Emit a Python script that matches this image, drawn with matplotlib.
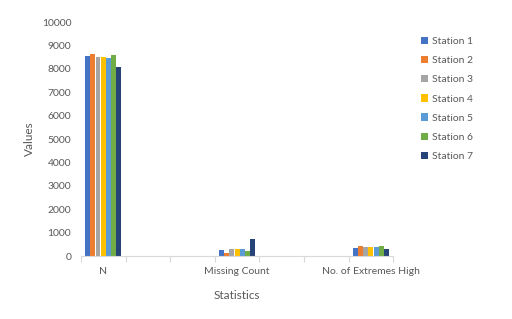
import matplotlib
matplotlib.use("Agg")
import matplotlib.pyplot as plt
import numpy as np

# categories (only every third label shown, as in the original)
categories = ["N", "", "", "Missing Count", "", "", "No. of Extremes High"]
stations = ["Station 1", "Station 2", "Station 3", "Station 4",
            "Station 5", "Station 6", "Station 7"]
colors = ["#4472C4", "#ED7D31", "#A5A5A5", "#FFC000", "#5B9BD5", "#70AD47", "#264478"]

# values per station, one per category
station_1 = [8560, 0, 0, 250, 0, 0, 330]
station_2 = [8650, 0, 0, 130, 0, 0, 420]
station_3 = [8490, 0, 0, 300, 0, 0, 400]
station_4 = [8500, 0, 0, 290, 0, 0, 370]
station_5 = [8480, 0, 0, 310, 0, 0, 380]
station_6 = [8570, 0, 0, 200, 0, 0, 420]
station_7 = [8090, 0, 0, 720, 0, 0, 310]
series = [station_1, station_2, station_3, station_4, station_5, station_6, station_7]

plt.rcParams['font.family'] = ['Lato', 'DejaVu Sans']
grey = "#595959"

fig = plt.figure(figsize=(5.12, 3.19), dpi=100)
ax = fig.add_axes([0.158, 0.197, 0.61, 0.734])

x = np.arange(len(categories))
w = 0.117
for i, (vals, name) in enumerate(zip(series, stations)):
    ax.bar(x + (i - 3) * w, vals, width=w * 0.95, color=colors[i], label=name)

ax.set_xlim(-0.5, len(categories) - 0.5)
ax.set_ylim(0, 10000)
ax.set_yticks(np.arange(0, 10001, 1000))
ax.tick_params(axis='y', length=0, labelsize=7.5, colors=grey, pad=7)

# category boundary ticks, labels at centres
ax.set_xticks(np.arange(-0.5, len(categories)), minor=False)
ax.set_xticklabels([])
ax.set_xticks(x, minor=True)
ax.set_xticklabels(categories, minor=True)
ax.tick_params(axis='x', which='major', length=4, color="#D9D9D9")
ax.tick_params(axis='x', which='minor', length=0, labelsize=7.5, colors=grey, pad=8)

for s in ["top", "right", "left"]:
    ax.spines[s].set_visible(False)
ax.spines["bottom"].set_color("#D9D9D9")

ax.set_ylabel("Values", fontsize=8.5, color=grey, labelpad=5)
ax.set_xlabel("Statistics", fontsize=8.5, color=grey, labelpad=10)

ax.legend(loc="upper left", bbox_to_anchor=(1.075, 0.955), frameon=False,
          fontsize=7.5, labelcolor=grey, handlelength=0.7, handleheight=0.7,
          handletextpad=0.4, labelspacing=0.95, borderaxespad=0)

fig.savefig("out.png", dpi=100)
